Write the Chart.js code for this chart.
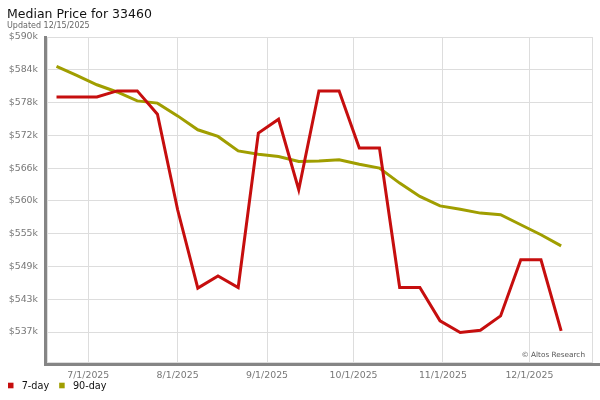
<!DOCTYPE html>
<html>
<head>
<meta charset="utf-8">
<script src="https://cdn.jsdelivr.net/npm/chart.js@4.4.1/dist/chart.umd.min.js"></script>
<style>
    html, body { margin: 0; padding: 0; background: #fff; }
</style>
</head>
<body>
<canvas id="priceChart" width="600" height="400"></canvas>
<script>
const TITLE = 'Median Price for 33460';
const SUBTITLE = 'Updated 12/15/2025';
const CREDIT = '© Altos Research';

// weekly readings
const weekDates = [
    '2025-06-20', '2025-06-27', '2025-07-04', '2025-07-11', '2025-07-18', '2025-07-25',
    '2025-08-01', '2025-08-08', '2025-08-15', '2025-08-22', '2025-08-29',
    '2025-09-05', '2025-09-12', '2025-09-19', '2025-09-26',
    '2025-10-03', '2025-10-10', '2025-10-17', '2025-10-24', '2025-10-31',
    '2025-11-07', '2025-11-14', '2025-11-21', '2025-11-28',
    '2025-12-05', '2025-12-12'
];
const price7day = [
    579200, 579200, 579200, 580300, 580300, 576100,
    558900, 544800, 547000, 544900, 572700,
    575200, 562500, 580300, 580300,
    570000, 570000, 544900, 544900, 538900,
    536800, 537200, 539800, 549900,
    549900, 537100
];
const price90day = [
    584700, 583100, 581400, 580100, 578500, 578100,
    575800, 573300, 572100, 569500, 568900,
    568500, 567600, 567700, 567900,
    567100, 566400, 563700, 561300, 559600,
    559000, 558300, 558000, 556200,
    554400, 552400
];

const monthTicks = ['2025-07-01', '2025-08-01', '2025-09-01', '2025-10-01', '2025-11-01', '2025-12-01'];
const monthLabels = ['7/1/2025', '8/1/2025', '9/1/2025', '10/1/2025', '11/1/2025', '12/1/2025'];
const yTickValues = [590000, 584100, 578200, 572300, 566400, 560500, 554600, 548700, 542800, 536900];
const yTickLabels = ['$590k', '$584k', '$578k', '$572k', '$566k', '$560k', '$555k', '$549k', '$543k', '$537k'];

const RED = '#c60e0e';
const OLIVE = '#a09e00';
const GRID = '#dddddd';
const FONT = 'DejaVu Sans';

const dayNum = s => Date.parse(s + 'T00:00:00Z') / 864e5;
const xs = weekDates.map(dayNum);
const toPoints = vals => vals.map((v, i) => ({ x: xs[i], y: v }));

// title, credit, legend and the grey frame shadow
const decorations = {
    id: 'decorations',
    afterDraw(chart) {
        const ctx = chart.ctx;
        const area = chart.chartArea;
        ctx.save();
        ctx.fillStyle = '#858585';
        ctx.fillRect(area.left - 3, area.top - 1, 3, area.bottom - area.top + 4);
        ctx.fillRect(area.left - 3, area.bottom + 1, chart.width - area.left + 3, 3);

        ctx.textBaseline = 'alphabetic';
        ctx.textAlign = 'left';
        ctx.fillStyle = '#111';
        ctx.font = '12.5px "' + FONT + '"';
        ctx.fillText(TITLE, 7, 18);
        ctx.fillStyle = '#666';
        ctx.font = '8px "' + FONT + '"';
        ctx.fillText(SUBTITLE, 7, 27.5);

        ctx.textAlign = 'right';
        ctx.fillStyle = '#555';
        ctx.font = '7.3px "' + FONT + '"';
        ctx.fillText(CREDIT, area.right - 7, area.bottom - 5);

        // legend row
        ctx.textAlign = 'left';
        ctx.textBaseline = 'middle';
        ctx.font = '9.7px "' + FONT + '"';
        let x = 8;
        chart.data.datasets.forEach(ds => {
            ctx.fillStyle = ds.borderColor;
            ctx.fillRect(x, 382.7, 5.5, 5.6);
            ctx.fillStyle = '#111';
            ctx.fillText(ds.label, x + 13.7, 386);
            x += 13.7 + ctx.measureText(ds.label).width + 10;
        });
        ctx.restore();
    }
};

new Chart(document.getElementById('priceChart'), {
    type: 'line',
    data: {
        datasets: [
            {
                label: '7-day',
                data: toPoints(price7day),
                borderColor: RED,
                backgroundColor: RED,
                borderWidth: 3,
                pointRadius: 0,
                tension: 0,
                borderJoinStyle: 'miter'
            },
            {
                label: '90-day',
                data: toPoints(price90day),
                borderColor: OLIVE,
                backgroundColor: OLIVE,
                borderWidth: 3,
                pointRadius: 0,
                tension: 0,
                borderJoinStyle: 'miter'
            }
        ]
    },
    options: {
        responsive: false,
        animation: false,
        layout: { padding: { top: 37, right: 7, bottom: 19, left: -3 } },
        scales: {
            x: {
                type: 'linear',
                min: dayNum('2025-06-17') - 0.3,
                max: dayNum('2025-12-22') + 0.7,
                afterBuildTicks: s => {
                    s.ticks = monthTicks.map(d => ({ value: dayNum(d) })).concat([{ value: s.max }]);
                },
                afterFit: s => { s.height = 19; },
                grid: { color: GRID, drawTicks: false },
                border: { color: GRID },
                ticks: {
                    padding: 8,
                    color: '#777',
                    autoSkip: false,
                    maxRotation: 0,
                    font: { family: FONT, size: 9.4 },
                    callback: (v, i) => monthLabels[i] || ''
                }
            },
            y: {
                min: 531500,
                max: 590000,
                afterBuildTicks: s => {
                    s.ticks = yTickValues.map(v => ({ value: v }));
                },
                afterFit: s => { s.width = 50; },
                grid: { color: GRID, drawTicks: false },
                border: { color: GRID },
                ticks: {
                    padding: 9,
                    color: '#777',
                    font: { family: FONT, size: 9.4 },
                    callback: (v, i) => yTickLabels[i]
                }
            }
        },
        plugins: {
            tooltip: { enabled: false },
            legend: { display: false }
        }
    },
    plugins: [decorations]
});
</script>
</body>
</html>
